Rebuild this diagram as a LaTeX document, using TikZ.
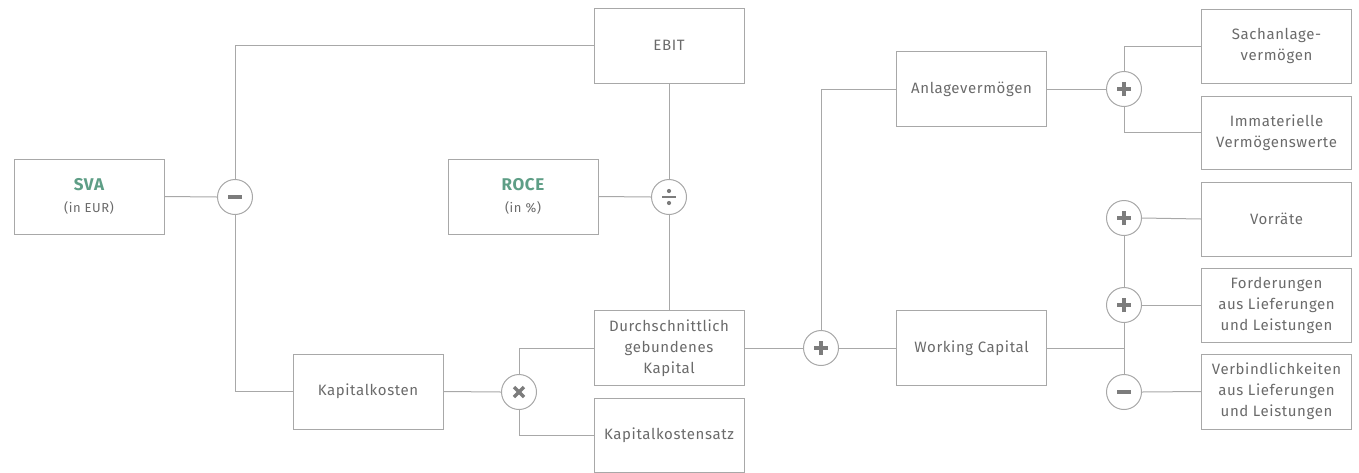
\documentclass[tikz,border=0pt]{standalone}
\usepackage{fontspec}
\setmainfont{Fira Sans}[LetterSpace=4]
\definecolor{linegray}{HTML}{A8A8A8}
\definecolor{textgray}{HTML}{6A6A6A}
\definecolor{symgray}{HTML}{7C7C7C}
\definecolor{accent}{HTML}{5E9E86}
\tikzset{
  box/.style={draw=linegray, line width=1pt, minimum width=150pt, minimum height=75pt,
    inner sep=0pt, align=center, text=textgray, font=\fontsize{15}{21}\selectfont},
  op/.style={circle, draw=linegray, line width=1pt, minimum size=35pt, inner sep=0pt, fill=white},
  conn/.style={draw=linegray, line width=1pt},
  sym/.style={draw=symgray, line width=3.4pt},
  symdot/.style={fill=symgray}
}
\newcommand{\minussym}[1]{\draw[sym] ([xshift=-7pt]#1.center) -- ([xshift=7pt]#1.center);}
\newcommand{\plussym}[1]{\draw[sym] ([xshift=-7pt]#1.center) -- ([xshift=7pt]#1.center);
  \draw[sym] ([yshift=-7pt]#1.center) -- ([yshift=7pt]#1.center);}
\newcommand{\timessym}[1]{\draw[sym] ([xshift=-5pt,yshift=-5pt]#1.center) -- ([xshift=5pt,yshift=5pt]#1.center);
  \draw[sym] ([xshift=-5pt,yshift=5pt]#1.center) -- ([xshift=5pt,yshift=-5pt]#1.center);}
\newcommand{\divsym}[1]{\draw[draw=symgray, line width=2.6pt] ([xshift=-7pt]#1.center) -- ([xshift=7pt]#1.center);
  \fill[symdot] ([yshift=-6pt]#1.center) circle (2.1pt);
  \fill[symdot] ([yshift=6pt]#1.center) circle (2.1pt);}
\newcommand{\hltext}[2]{{\fontsize{17}{19}\selectfont\bfseries\color{accent}#1}\\[1pt]{\fontsize{13}{15}\selectfont #2}}
\begin{document}
\begin{tikzpicture}[x=1pt,y=-1pt]
\useasboundingbox (0,0) rectangle (1359,472);
% boxes
\node[box] (sva) at (89,196.5) {\hltext{SVA}{(in EUR)}};
\node[box] (ebit) at (669,45.5) {EBIT};
\node[box] (roce) at (523,196.5) {\hltext{ROCE}{(in \%)}};
\node[box] (kk) at (368,391.5) {Kapitalkosten};
\node[box] (dgk) at (669,348) {Durchschnittlich\\gebundenes\\Kapital};
\node[box, minimum height=74pt] (kks) at (669,435) {Kapitalkostensatz};
\node[box] (av) at (971.5,89) {Anlagevermögen};
\node[box] (wc) at (971.5,348) {Working Capital};
\node[box, minimum height=74pt] (sach) at (1276.5,46) {Sachanlage-\\vermögen};
\node[box, minimum height=73pt] (imm) at (1276.5,132.5) {Immaterielle\\Vermögenswerte};
\node[box, minimum height=74pt] (vor) at (1276.5,219) {Vorräte};
\node[box, minimum height=74pt] (ford) at (1276.5,305) {Forderungen\\aus Lieferungen\\und Leistungen};
\node[box, minimum height=75pt] (verb) at (1276.5,391.5) {Verbindlichkeiten\\aus Lieferungen\\und Leistungen};
% operators
\node[op] (m1) at (235,197) {};
\node[op] (dv) at (669,197) {};
\node[op] (tm) at (519,392) {};
\node[op] (p1) at (821,348) {};
\node[op] (p2) at (1124,89) {};
\node[op] (p3) at (1124,218) {};
\node[op] (p4) at (1124,305) {};
\node[op] (m2) at (1124,392) {};
\coordinate (j) at (1124,348);
% connectors
\draw[conn] (sva.east) -- (m1.west);
\draw[conn] (m1.north) |- (ebit.west);
\draw[conn] (m1.south) |- (kk.west);
\draw[conn] (roce.east) -- (dv.west);
\draw[conn] (ebit.south) -- (dv.north);
\draw[conn] (dv.south) -- (dgk.north);
\draw[conn] (kk.east) -- (tm.west);
\draw[conn] (tm.north) |- (dgk.west);
\draw[conn] (tm.south) |- (kks.west);
\draw[conn] (dgk.east) -- (p1.west);
\draw[conn] (p1.north) |- (av.west);
\draw[conn] (p1.east) -- (wc.west);
\draw[conn] (av.east) -- (p2.west);
\draw[conn] (p2.north) |- (sach.west);
\draw[conn] (p2.south) |- (imm.west);
\draw[conn] (p3.east) -- (vor.west);
\draw[conn] (p4.east) -- (ford.west);
\draw[conn] (m2.east) -- (verb.west);
\draw[conn] (p3.south) -- (p4.north);
\draw[conn] (p4.south) -- (m2.north);
\draw[conn] (wc.east) -- (j);
% symbols
\minussym{m1}
\minussym{m2}
\plussym{p1}
\plussym{p2}
\plussym{p3}
\plussym{p4}
\timessym{tm}
\divsym{dv}
\end{tikzpicture}
\end{document}
